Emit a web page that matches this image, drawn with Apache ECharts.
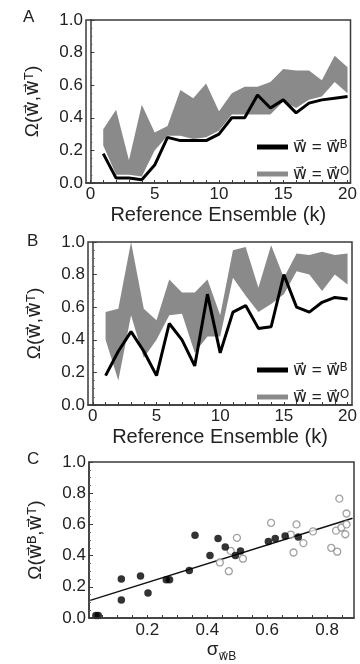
<!DOCTYPE html>
<html>
<head>
<meta charset="utf-8">
<script src="https://cdn.jsdelivr.net/npm/echarts@6/dist/echarts.min.js"></script>
<style>
html,body{margin:0;padding:0;background:#fff;}
#c{width:360px;height:664px;}
</style>
</head>
<body>
<div id="c"></div>
<script>
// ---------- data ----------
var kValues = [1,2,3,4,5,6,7,8,9,10,11,12,13,14,15,16,17,18,19,20];

// Panel A
var blackA = [0.18,0.03,0.03,0.02,0.11,0.28,0.26,0.26,0.26,0.30,0.40,0.40,0.54,0.46,0.51,0.43,0.49,0.51,0.52,0.53];
var upperA = [0.33,0.45,0.14,0.48,0.31,0.35,0.57,0.52,0.61,0.44,0.55,0.59,0.59,0.62,0.70,0.69,0.69,0.63,0.78,0.71];
var lowerA = [0.23,0.05,0.05,0.04,0.20,0.29,0.29,0.27,0.28,0.32,0.42,0.42,0.42,0.42,0.50,0.46,0.51,0.53,0.62,0.55];

// Panel B
var blackB = [0.18,0.33,0.45,0.33,0.18,0.50,0.40,0.24,0.68,0.32,0.57,0.61,0.47,0.48,0.80,0.60,0.57,0.63,0.66,0.65];
var upperB = [0.57,0.59,1.00,0.59,0.52,0.77,0.69,0.69,0.77,0.55,0.95,0.97,0.72,0.98,0.78,0.93,0.92,0.94,0.92,0.93];
var lowerB = [0.40,0.15,0.55,0.29,0.40,0.55,0.56,0.32,0.42,0.42,0.78,0.67,0.57,0.62,0.68,0.82,0.80,0.70,0.80,0.74];

// Panel C
var filledX = [0.028,0.036,0.113,0.113,0.177,0.202,0.263,0.274,0.340,0.359,0.409,0.436,0.460,0.494,0.511,0.604,0.627,0.660,0.704];
var filledY = [0.016,0.016,0.250,0.115,0.270,0.160,0.245,0.245,0.305,0.530,0.400,0.510,0.455,0.400,0.430,0.490,0.510,0.525,0.520];
var openX = [0.442,0.472,0.478,0.499,0.519,0.613,0.679,0.688,0.698,0.721,0.753,0.814,0.834,0.841,0.830,0.848,0.865,0.865,0.861];
var openY = [0.356,0.300,0.430,0.514,0.380,0.610,0.535,0.420,0.600,0.480,0.555,0.450,0.425,0.765,0.560,0.580,0.670,0.600,0.537];
var fitX = [0.009,0.885];
var fitY = [0.113,0.640];

// ticks / labels
var kLabelTicks = [0,5,10,15,20];
var kMinorTicks = [0,1,2,3,4,5,6,7,8,9,10,11,12,13,14,15,16,17,18,19,20];
var sigmaLabelTicks = [0.2,0.4,0.6,0.8];
var sigmaMinorTicks = [0.05,0.1,0.15,0.2,0.25,0.3,0.35,0.4,0.45,0.5,0.55,0.6,0.65,0.7,0.75,0.8,0.85];

var nameB = 'w\u20D7 = w\u20D7\u1D2E';
var nameO = 'w\u20D7 = w\u20D7\u1D3C';
var yNameAB = '\u03A9(w\u20D7,w\u20D7\u1D40)';
var yNameC = '\u03A9(w\u20D7\u1D2E,w\u20D7\u1D40)';

// ---------- style ----------
var FONT = '"Liberation Sans", Arial, "DejaVu Sans", sans-serif';
var TXT = '#222';
var GREY = '#8a8a8a';
var FRAME = '#3a3a3a';

function pairs(xs, ys){ return xs.map(function(x,i){ return [x, ys[i]]; }); }
function triples(xs, lo, up){ return xs.map(function(x,i){ return [x, lo[i], up[i]]; }); }

// draws the whole band once (lower edge forward, upper edge back) through the axis scales
function bandRender(params, api){
  if (params.dataIndexInside !== 0) return null;
  var n = params.dataInsideLength;
  var pts = [];
  for (var i = 0; i < n; i++) pts.push(api.coord([api.value(0, i), api.value(1, i)]));
  for (var j = n - 1; j >= 0; j--) pts.push(api.coord([api.value(0, j), api.value(2, j)]));
  return {
    type:'polygon',
    shape:{points:pts},
    style:{fill:GREY, stroke:'none', lineWidth:0, opacity:1}
  };
}

function yAxisCfg(gi, name){
  return {
    gridIndex: gi, type:'value', min:0, max:1, interval:0.2, z:10,
    name: name, nameLocation:'middle', nameGap:44, nameRotate:90,
    nameTextStyle:{fontFamily:FONT, fontSize:19, color:TXT},
    axisLine:{show:true, lineStyle:{color:FRAME, width:1.5}},
    axisTick:{show:true, inside:true, length:4, lineStyle:{color:FRAME}},
    minorTick:{show:true, splitNumber:4, length:2, lineStyle:{color:'#666'}},
    splitLine:{show:false},
    axisLabel:{fontFamily:FONT, fontSize:17, color:TXT, margin:3,
      formatter:function(v){ return v.toFixed(1); }}
  };
}
function kAxisCfg(gi, mn, mx){
  return {
    gridIndex: gi, type:'value', min:mn, max:mx, z:10,
    name:'Reference Ensemble (k)', nameLocation:'middle', nameGap:22,
    nameTextStyle:{fontFamily:FONT, fontSize:20, color:TXT},
    axisLine:{show:true, onZero:false, lineStyle:{color:FRAME, width:1.5}},
    axisTick:{show:true, inside:true, length:3, customValues:kMinorTicks, lineStyle:{color:FRAME}},
    splitLine:{show:false},
    axisLabel:{fontFamily:FONT, fontSize:17, color:TXT, margin:3, customValues:kLabelTicks,
      formatter:function(v){ return String(Math.round(v)); }}
  };
}

var chart = echarts.init(document.getElementById('c'), null, {renderer:'canvas'});

var gridStyle = {show:true, borderColor:FRAME, borderWidth:1.5, backgroundColor:'#fff', containLabel:false};

var legendText = {fontFamily:FONT, fontSize:17, color:TXT, lineHeight:20};
var legendData = [{name:nameB, itemStyle:{color:'#000'}}, {name:nameO, itemStyle:{color:GREY}}];

var option = {
  animation:false,
  backgroundColor:'#fff',
  grid:[
    Object.assign({left:86, top:20, width:265, height:163}, gridStyle),
    Object.assign({left:88, top:242, width:266, height:163}, gridStyle),
    Object.assign({left:89, top:462, width:265, height:162}, gridStyle)
  ],
  xAxis:[
    kAxisCfg(0, -0.34, 20.23),
    kAxisCfg(1, -0.38, 20.35),
    {
      gridIndex:2, type:'value', min:0.005, max:0.89, z:10,
      name:'{s|\u03C3}{sub|w\u20D7B}', nameLocation:'middle', nameGap:19,
      nameTextStyle:{fontFamily:FONT, color:TXT,
        rich:{
          s:{fontFamily:FONT, fontSize:19, color:TXT, lineHeight:26, verticalAlign:'middle'},
          sub:{fontFamily:FONT, fontSize:12, color:TXT, lineHeight:14, verticalAlign:'bottom'}
        }},
      axisLine:{show:true, onZero:false, lineStyle:{color:FRAME, width:1.5}},
      axisTick:{show:true, inside:true, length:3, customValues:sigmaMinorTicks, lineStyle:{color:FRAME}},
      splitLine:{show:false},
      axisLabel:{fontFamily:FONT, fontSize:17, color:TXT, margin:4, customValues:sigmaLabelTicks,
        formatter:function(v){ return v.toFixed(1); }}
    }
  ],
  yAxis:[ yAxisCfg(0, yNameAB), yAxisCfg(1, yNameAB), yAxisCfg(2, yNameC) ],
  legend:[
    {left:257, top:137, orient:'vertical', padding:0, itemGap:7, itemWidth:31, itemHeight:5, icon:'rect',
     selectedMode:false, z:20, textStyle:legendText, data:legendData},
    {left:257, top:360, orient:'vertical', padding:0, itemGap:7, itemWidth:31, itemHeight:5, icon:'rect',
     selectedMode:false, z:20, textStyle:legendText, data:legendData}
  ],
  graphic:[
    {type:'text', x:23, y:17, style:{text:'A', font:'17px "Liberation Sans", Arial, sans-serif', fill:TXT, verticalAlign:'middle'}},
    {type:'text', x:27, y:241, style:{text:'B', font:'17px "Liberation Sans", Arial, sans-serif', fill:TXT, verticalAlign:'middle'}},
    {type:'text', x:27, y:459, style:{text:'C', font:'17px "Liberation Sans", Arial, sans-serif', fill:TXT, verticalAlign:'middle'}}
  ],
  series:[
    // Panel A
    {type:'custom', name:nameO, xAxisIndex:0, yAxisIndex:0, z:2, silent:true,
     itemStyle:{color:GREY}, encode:{x:0, y:[1,2]}, renderItem:bandRender,
     data:triples(kValues, lowerA, upperA)},
    {type:'line', name:nameB, xAxisIndex:0, yAxisIndex:0, symbol:'none', z:5,
     lineStyle:{width:3, color:'#000'}, itemStyle:{color:'#000'}, data:pairs(kValues, blackA)},
    // Panel B
    {type:'custom', name:nameO, xAxisIndex:1, yAxisIndex:1, z:2, silent:true,
     itemStyle:{color:GREY}, encode:{x:0, y:[1,2]}, renderItem:bandRender,
     data:triples(kValues, lowerB, upperB)},
    {type:'line', name:nameB, xAxisIndex:1, yAxisIndex:1, symbol:'none', z:5,
     lineStyle:{width:3, color:'#000'}, itemStyle:{color:'#000'}, data:pairs(kValues, blackB)},
    // Panel C
    {type:'line', name:'fit', xAxisIndex:2, yAxisIndex:2, symbol:'none', z:3,
     lineStyle:{width:1.5, color:'#111'}, data:pairs(fitX, fitY)},
    {type:'scatter', name:'open', xAxisIndex:2, yAxisIndex:2, symbol:'circle', symbolSize:7, z:4,
     itemStyle:{color:'#fff', borderColor:'#8a8a8a', borderWidth:1.3}, data:pairs(openX, openY)},
    {type:'scatter', name:'filled', xAxisIndex:2, yAxisIndex:2, symbol:'circle', symbolSize:7.5, z:5,
     itemStyle:{color:'#000'}, data:pairs(filledX, filledY)}
  ]
};
chart.setOption(option);
</script>
</body>
</html>
